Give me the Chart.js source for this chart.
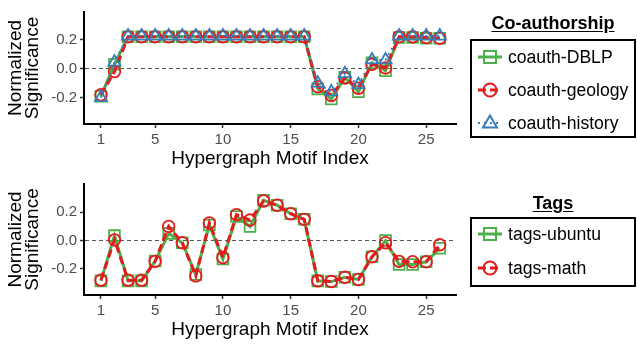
<!DOCTYPE html>
<html>
<head>
<meta charset="utf-8">
<script src="https://cdn.jsdelivr.net/npm/chart.js@4.4.1/dist/chart.umd.min.js"></script>
<style>
  body { margin: 0; width: 637px; height: 345px; position: relative; background: #fff; overflow: hidden;
         font-family: "Liberation Sans", Arial, sans-serif; }
  canvas { position: absolute; left: 0; }
  .lgTitle { position: absolute; left: 470px; width: 166px; text-align: center; font-weight: bold;
             font-size: 18px; line-height: 20px; text-decoration: underline; text-underline-offset: 2px; color: #000; }
  .lgBox { position: absolute; left: 470px; width: 162px; border: 2px solid #000; }
  .lgRow { position: absolute; left: 476px; height: 20px; line-height: 20px; font-size: 17.6px; color: #000; white-space: nowrap; }
  .lgRow svg { position: absolute; left: 0; top: 0; }
  .lgRow span { position: absolute; left: 32px; top: 0; }
</style>
</head>
<body>
<canvas id="coauthChart" width="637" height="172" style="top:0"></canvas>
<canvas id="tagsChart" width="637" height="171" style="top:172px"></canvas>

<script>
const motifIndex = [1, 2, 3, 4, 5, 6, 7, 8, 9, 10, 11, 12, 13, 14, 15, 16, 17, 18, 19, 20, 21, 22, 23, 24, 25, 26];
const xTickValues = [1, 5, 10, 15, 20, 25];
const yTickValues = [-0.2, 0, 0.2];

// Co-authorship panel
const coauthDBLP = [-0.19, 0.03, 0.22, 0.22, 0.22, 0.22, 0.22, 0.22, 0.22, 0.22, 0.22, 0.22, 0.22, 0.22, 0.22, 0.22,
                    -0.14, -0.21, -0.06, -0.16, 0.04, -0.015, 0.215, 0.215, 0.21, 0.21];
const coauthGeology = [-0.18, -0.02, 0.22, 0.22, 0.22, 0.22, 0.22, 0.22, 0.22, 0.22, 0.22, 0.22, 0.22, 0.22, 0.22, 0.22,
                       -0.125, -0.185, -0.065, -0.135, 0.03, 0.005, 0.22, 0.22, 0.215, 0.21];
const coauthHistory = [-0.2, 0.045, 0.225, 0.225, 0.225, 0.225, 0.225, 0.225, 0.225, 0.225, 0.225, 0.225, 0.225, 0.225, 0.225, 0.225,
                       -0.10, -0.16, -0.035, -0.11, 0.06, 0.06, 0.225, 0.225, 0.225, 0.225];

// Tags panel
const tagsUbuntu = [-0.285, 0.035, -0.285, -0.285, -0.145, 0.05, -0.015, -0.24, 0.11, -0.13, 0.17, 0.10, 0.285,
                    0.25, 0.19, 0.15, -0.285, -0.29, -0.26, -0.275, -0.115, 0.0, -0.17, -0.17, -0.15, -0.055];
const tagsMath = [-0.28, 0.005, -0.28, -0.28, -0.147, 0.10, -0.015, -0.25, 0.125, -0.12, 0.183, 0.145, 0.28,
                  0.25, 0.19, 0.15, -0.285, -0.29, -0.26, -0.275, -0.115, -0.015, -0.147, -0.15, -0.15, -0.03];

const FONT = '"Liberation Sans", Arial, sans-serif';
const GREEN = '#4daf4a', RED = '#e41a1c', BLUE = '#377eb8';

const coauthSeries = [
  { label: 'coauth-DBLP', values: coauthDBLP, color: GREEN, dash: [], width: 3, point: 'rect', radius: 7.6, order: 3 },
  { label: 'coauth-geology', values: coauthGeology, color: RED, dash: [8, 4], width: 3, point: 'circle', radius: 5.8, order: 2 },
  { label: 'coauth-history', values: coauthHistory, color: BLUE, dash: [2, 4], width: 2, point: 'triangle', radius: 7, order: 1 },
];
const tagsSeries = [
  { label: 'tags-ubuntu', values: tagsUbuntu, color: GREEN, dash: [], width: 3, point: 'rect', radius: 7.6, order: 2 },
  { label: 'tags-math', values: tagsMath, color: RED, dash: [8, 4], width: 3, point: 'circle', radius: 5.8, order: 1 },
];

function buildChart(id, series, yMin, yMax) {
  return new Chart(document.getElementById(id), {
    type: 'line',
    data: {
      datasets: series.map(s => ({
        label: s.label,
        data: motifIndex.map((x, i) => ({ x: x, y: s.values[i] })),
        borderColor: s.color,
        backgroundColor: 'transparent',
        borderWidth: s.width,
        borderDash: s.dash,
        pointStyle: s.point,
        pointRadius: s.radius,
        pointBorderWidth: 1.8,
        pointBorderColor: s.color,
        pointBackgroundColor: 'transparent',
        tension: 0,
        fill: false,
        order: s.order,
      })),
    },
    options: {
      responsive: false,
      animation: false,
      devicePixelRatio: 1,
      layout: { padding: { left: 0, right: 181, top: 6, bottom: 0 } },
      plugins: { legend: { display: false }, tooltip: { enabled: false } },
      scales: {
        x: {
          type: 'linear',
          min: -0.25,
          max: 27.2,
          afterBuildTicks: s => { s.ticks = xTickValues.map(v => ({ value: v })); },
          afterFit: s => { s.height = 48; },
          grid: { drawOnChartArea: false, tickLength: 4, tickColor: '#333', tickWidth: 1.5 },
          border: { color: '#000', width: 2 },
          ticks: { color: '#4d4d4d', font: { family: FONT, size: 15 }, padding: 3, maxRotation: 0, autoSkip: false },
          title: { display: true, text: 'Hypergraph Motif Index', color: '#000',
                   font: { family: FONT, size: 19 }, padding: { top: 0, bottom: 2 } },
        },
        y: {
          min: yMin,
          max: yMax,
          afterBuildTicks: s => { s.ticks = yTickValues.map(v => ({ value: v })); },
          afterFit: s => { s.width = 84; },
          grid: {
            color: c => (c.tick && c.tick.value === 0 ? '#555' : 'transparent'),
            lineWidth: 1,
            tickLength: 4,
            tickColor: '#333',
            tickWidth: 1.5,
            tickBorderDash: [],
          },
          border: { color: '#000', width: 2, dash: [4, 3] },
          ticks: { color: '#4d4d4d', font: { family: FONT, size: 15 }, padding: 3,
                   callback: v => Number(v).toFixed(1) },
          title: { display: true, text: ['Normalized', 'Significance'], color: '#000',
                   font: { family: FONT, size: 19, lineHeight: 0.87 }, padding: { top: 8, bottom: 0 } },
        },
      },
    },
  });
}

buildChart('coauthChart', coauthSeries, -0.382, 0.391);
buildChart('tagsChart', tagsSeries, -0.385, 0.40);

// legends (outside the plot, boxed, with an underlined heading)
function symbol(s) {
  const dash = s.dash.length ? ` stroke-dasharray="${s.dash.join(' ')}"` : '';
  let mark = '';
  if (s.point === 'rect') mark = `<rect x="8" y="4" width="12" height="12" fill="none" stroke="${s.color}" stroke-width="2"/>`;
  if (s.point === 'circle') mark = `<circle cx="14" cy="10" r="6.5" fill="none" stroke="${s.color}" stroke-width="2"/>`;
  if (s.point === 'triangle') mark = `<polygon points="14,2.5 21,14.5 7,14.5" fill="none" stroke="${s.color}" stroke-width="2"/>`;
  return `<svg width="28" height="20"><line x1="2" y1="10" x2="26" y2="10" stroke="${s.color}" stroke-width="${s.width}"${dash}/>${mark}</svg>`;
}

function buildLegend(title, titleY, boxTop, boxHeight, rowYs, series) {
  const t = document.createElement('div');
  t.className = 'lgTitle';
  t.style.top = (titleY - 10) + 'px';
  t.textContent = title;
  document.body.appendChild(t);
  const box = document.createElement('div');
  box.className = 'lgBox';
  box.style.top = boxTop + 'px';
  box.style.height = (boxHeight - 4) + 'px';
  document.body.appendChild(box);
  series.forEach((s, i) => {
    const r = document.createElement('div');
    r.className = 'lgRow';
    r.style.top = (rowYs[i] - 10) + 'px';
    r.innerHTML = symbol(s) + '<span>' + s.label + '</span>';
    document.body.appendChild(r);
  });
}

buildLegend('Co-authorship', 23, 39, 99, [57, 90, 123], coauthSeries);
buildLegend('Tags', 203, 217, 70, [234, 268], tagsSeries);
</script>
</body>
</html>
